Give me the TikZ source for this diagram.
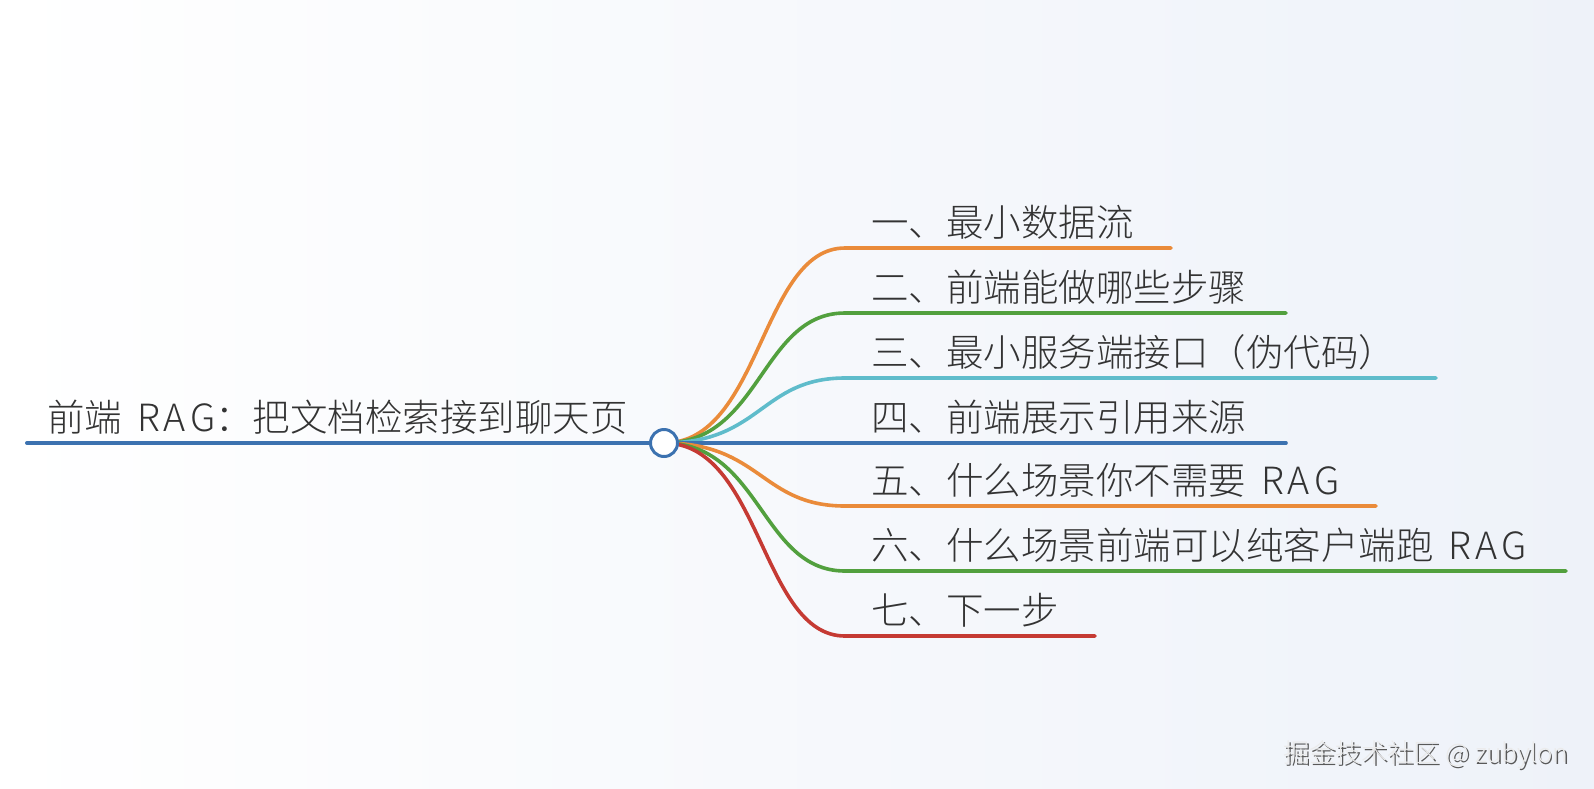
\documentclass[tikz,border=0pt]{standalone}
\usepackage{fontspec}
\newfontfamily\cjk{Noto Sans CJK SC Light}
\usetikzlibrary{positioning, calc}

\definecolor{bgblue}{HTML}{EEF2F9}
\definecolor{mapblue}{HTML}{3C72B0}
\definecolor{maporange}{HTML}{EA8B3A}
\definecolor{mapgreen}{HTML}{52A03E}
\definecolor{mapcyan}{HTML}{5FBCCB}
\definecolor{mapred}{HTML}{C53A33}
\definecolor{inkgray}{HTML}{333333}

% wider Latin run, as in the reference
\newcommand\ragword{\hspace{15pt}R\hspace{4pt}A\hspace{4pt}G}

\begin{document}
\begin{tikzpicture}[
    x=1pt, y=-1pt,
    rootlabel/.style={anchor=base west, inner sep=0pt, font=\cjk\fontsize{37.5}{40}\selectfont, text=inkgray},
    leaf/.style={anchor=base west, inner sep=0pt, font=\cjk\fontsize{37.5}{40}\selectfont, text=inkgray},
    hub/.style={circle, draw=mapblue, line width=3pt, fill=white, minimum size=27pt, inner sep=0pt},
    branch/.style={line width=3.6pt, line cap=round},
    wmark/.style={font=\cjk\fontsize{26}{28}\selectfont}
]

% Background
\useasboundingbox (0,0) rectangle (1594,788);
\shade[left color=white, right color=bgblue] (0,0) rectangle (1594,788);

% Root
\coordinate (rootstart) at (27,443);
\node[rootlabel] (root) at (47,431) {前端\ragword：把文档检索接到聊天页};

% Branch end points
\coordinate (e1) at (1171,248);
\coordinate (e2) at (1286,313);
\coordinate (e3) at (1436,378);
\coordinate (e4) at (1286,443);
\coordinate (e5) at (1376,506);
\coordinate (e6) at (1566,571);
\coordinate (e7) at (1095,636);

\draw[branch, maporange] (664,443) .. controls (761,443) and (761,248) .. (845,248) -- (e1);
\draw[branch, mapgreen] (664,443) .. controls (761,443) and (761,313) .. (845,313) -- (e2);
\draw[branch, mapcyan] (664,443) .. controls (761,443) and (761,378) .. (845,378) -- (e3);
\draw[branch, mapblue] (664,443) -- (e4);
\draw[branch, maporange] (664,443) .. controls (761,443) and (761,506) .. (845,506) -- (e5);
\draw[branch, mapgreen] (664,443) .. controls (761,443) and (761,571) .. (845,571) -- (e6);
\draw[branch, mapred] (664,443) .. controls (761,443) and (761,636) .. (845,636) -- (e7);

% Main line and hub
\node[hub] (hub) at (664,443) {};
\draw[branch, mapblue, line width=4pt] (rootstart) -- (hub.west);

% Labels
\node[leaf] (b1) at (871,236) {一、最小数据流};
\node[leaf] (b2) at (871,301) {二、前端能做哪些步骤};
\node[leaf] (b3) at (871,366) {三、最小服务端接口（伪代码）};
\node[leaf] (b4) at (871,431) {四、前端展示引用来源};
\node[leaf] (b5) at (871,494) {五、什么场景你不需要\ragword};
\node[leaf] (b6) at (871,559) {六、什么场景前端可以纯客户端跑\ragword};
\node[leaf] (b7) at (871,624) {七、下一步};

% Watermark
\node[wmark, text=black!65, anchor=base east] (wm) at (1573,764) {掘金技术社区 @ zubylon};
\node[wmark, text=white!92!black, anchor=base east] at (1571.5,762.5) {掘金技术社区 @ zubylon};
\end{tikzpicture}
\end{document}
